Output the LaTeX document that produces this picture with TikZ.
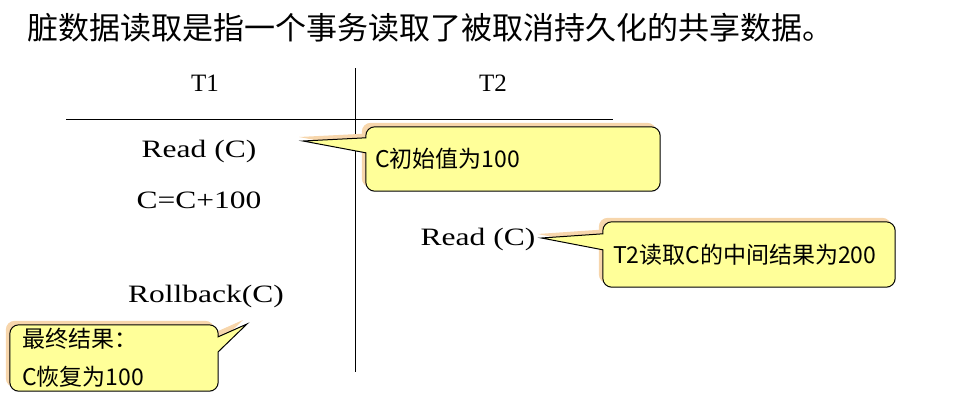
\documentclass[tikz,border=0pt]{standalone}
\usepackage{fontspec}
\usepackage{graphicx}
\usepackage{tikz}
\newfontfamily\cjk{Noto Sans CJK SC}
\newfontfamily\opfont{Liberation Serif}
\newcommand\wide[1]{\scalebox{1.26}[1]{#1}}
\definecolor{noteyellow}{RGB}{255,255,153}
\definecolor{noteshade}{RGB}{247,214,172}

\begin{document}
\begin{tikzpicture}[x=1pt, y=-1pt,
		head/.style={font=\opfont\fontsize{25}{30}\selectfont, inner sep=0pt},
		op/.style={font=\opfont\fontsize{25}{30}\selectfont, inner sep=0pt},
		rule/.style={line width=1pt},
		box/.style={draw=none, inner sep=0pt, rectangle},
		notebox/.style={draw, line width=1pt, fill=noteyellow,
			preaction={fill=noteshade, transform canvas={shift={(-4pt,4pt)}}}},
		notetext/.style={font=\cjk\fontsize{23}{38}\selectfont, inner sep=0pt, anchor=west, align=left}]
		\useasboundingbox (0,0) rectangle (966,413);
		\node (title) [anchor=west, inner sep=0pt, font=\cjk\fontsize{31}{36}\selectfont] at (27,28)
			{脏数据读取是指一个事务读取了被取消持久化的共享数据。};
		\node (t1) [head] at (205,83) {T1};
		\node (t2) [head] at (493,83) {T2};
		\node (readA)    [op] at (199,151) {\wide{Read (C)}};
		\node (calc)     [op] at (199,200) {\wide{C=C+100}};
		\node (readB)    [op] at (478,239) {\wide{Read (C)}};
		\node (rollback) [op] at (206,296) {\wide{Rollback(C)}};
		\coordinate (hl) at (66,119);
		\coordinate (hr) at (613,119);
		\coordinate (vt) at (355,68);
		\coordinate (vb) at (355,372);
		\draw [rule] (hl) -- (hr);
		\draw [rule] (vt) -- (vb);
		% callouts
		\node (b1) [box, minimum width=294pt, minimum height=64pt] at (513,159) {};
		\node (b2) [box, minimum width=292pt, minimum height=65pt] at (749,254.5) {};
		\node (b3) [box, minimum width=208pt, minimum height=66pt] at (114,358) {};
		\coordinate (tip1) at (303,141);
		\coordinate (tip2) at ([shift={(6pt,1pt)}]readB.east);
		\coordinate (tip3) at (247,324);
		\path [notebox] (tip1) -- ([yshift=-11pt]b1.north west) [rounded corners=9pt] -- (b1.north west) -- (b1.north east)
			-- (b1.south east) -- (b1.south west) [sharp corners] -- ([yshift=-26pt]b1.north west) -- cycle;
		\path [notebox] (tip2) -- ([yshift=-12pt]b2.north west) [rounded corners=9pt] -- (b2.north west) -- (b2.north east)
			-- (b2.south east) -- (b2.south west) [sharp corners] -- ([yshift=-28pt]b2.north west) -- cycle;
		\path [notebox] (tip3) -- ([yshift=-27pt]b3.north east) [rounded corners=9pt] -- (b3.south east)
			-- (b3.south west) -- (b3.north west) -- (b3.north east) [sharp corners] -- ([yshift=-12pt]b3.north east) -- cycle;
		\node (n1) [notetext] at ([xshift=9pt]b1.west) {C初始值为100};
		\node (n2) [notetext] at ([xshift=10pt]b2.west) {T2读取C的中间结果为200};
		\node (n3) [notetext] at ([xshift=12pt]b3.west) {最终结果：\\C恢复为100};
\end{tikzpicture}
\end{document}
